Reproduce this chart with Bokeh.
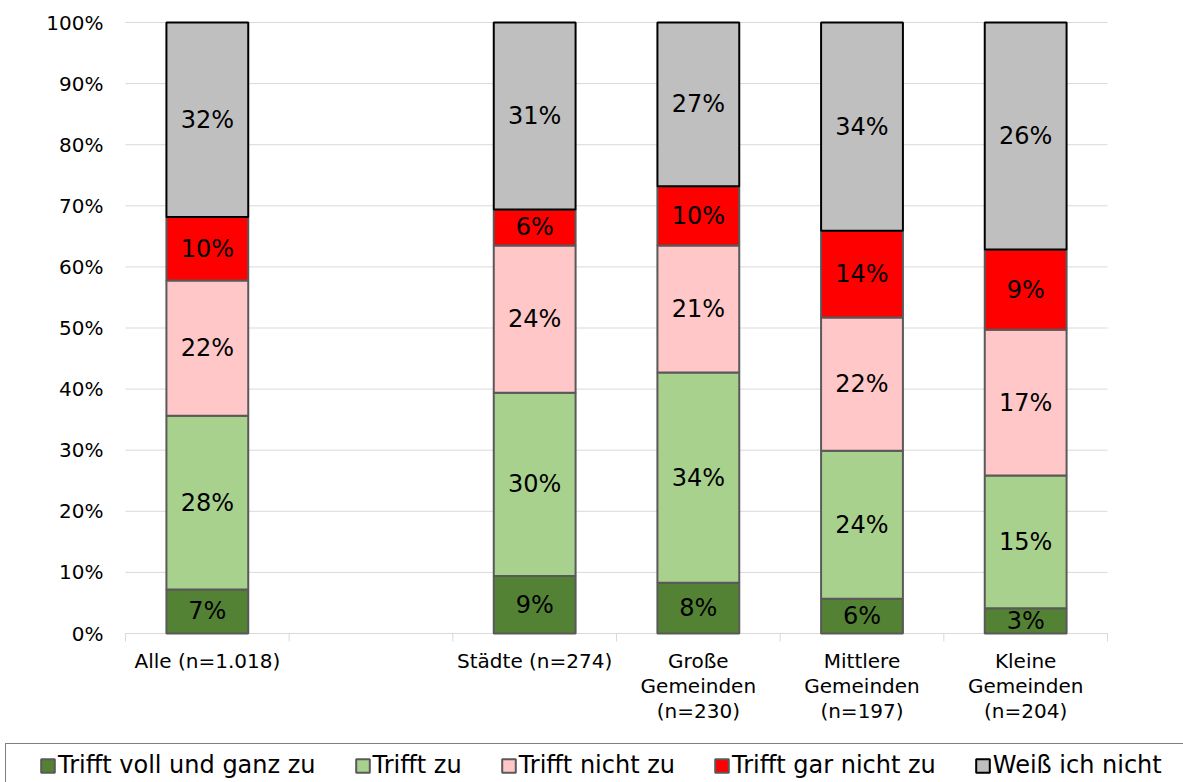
from bokeh.plotting import figure
from bokeh.models import Range1d, Legend, LegendItem, ColumnDataSource
from bokeh.core.properties import value
from bokeh.embed import file_html
from bokeh.resources import INLINE

# ---------------- data ----------------
categories = ["Alle (n=1.018)", "", "Städte (n=274)",
              "Große\nGemeinden\n(n=230)", "Mittlere\nGemeinden\n(n=197)",
              "Kleine\nGemeinden\n(n=204)"]
series = ["Trifft voll und ganz zu", "Trifft zu", "Trifft nicht zu",
          "Trifft gar nicht zu", "Weiß ich nicht"]
trifft_voll = [7.2, None, 9.4, 8.3, 5.7, 2.9]
trifft_zu = [28.4, None, 30.0, 34.4, 24.2, 15.2]
trifft_nicht = [22.1, None, 24.1, 20.8, 21.8, 16.7]
trifft_gar_nicht = [10.4, None, 5.9, 9.7, 14.2, 9.2]
weiss_nicht = [31.8, None, 30.6, 26.8, 34.1, 26.0]
y_ticks = [0, 10, 20, 30, 40, 50, 60, 70, 80, 90, 100]

colors = ["#548235", "#a9d18e", "#ffc7c7", "#ff0000", "#bfbfbf"]
outlines = ["#595959", "#595959", "#595959", "#595959", "#000000"]
FONT = "DejaVu Sans"
GRID = "#d9d9d9"

data = [trifft_voll, trifft_zu, trifft_nicht, trifft_gar_nicht, weiss_nicht]

# ---------------- layout (pixels) ----------------
W, H = 1183, 782
PL, PR, PT, PB = 125, 1107, 22, 633          # plot area edges
ncat = len(categories)
ux = (PR - PL) / ncat                          # px per category
uy = (PB - PT) / 100.0                         # px per percent
x_range = Range1d(-PL / ux, ncat + (W - PR) / ux)
y_range = Range1d(-(H - PB) / uy, 100 + PT / uy)

p = figure(width=W, height=H, frame_width=W, frame_height=H,
           min_border=0, x_range=x_range, y_range=y_range,
           x_axis_location=None, y_axis_location=None,
           output_backend="svg", toolbar_location=None)
p.outline_line_color = None
p.background_fill_color = "white"
p.border_fill_color = "white"
p.xgrid.visible = False
p.ygrid.visible = False

# grid lines and category tick marks
p.segment(x0=[0] * len(y_ticks), x1=[ncat] * len(y_ticks), y0=y_ticks, y1=y_ticks,
          line_color=GRID, line_width=1)
bounds = list(range(ncat + 1))
p.segment(x0=bounds, x1=bounds, y0=[0] * len(bounds), y1=[-8 / uy] * len(bounds),
          line_color=GRID, line_width=1)

idx = [i for i in range(ncat) if trifft_voll[i] is not None]
centers = [i + 0.5 for i in idx]
totals = [sum(d[i] for d in data) for i in idx]

bottom = [0.0] * len(idx)
renderers = []
lab_x, lab_y, lab_t = [], [], []
for s, d in enumerate(data):
    shares = [d[i] / totals[k] * 100 for k, i in enumerate(idx)]
    top = [b + v for b, v in zip(bottom, shares)]
    src = ColumnDataSource(dict(x=centers, bottom=bottom, top=top))
    r = p.vbar(x="x", bottom="bottom", top="top", width=0.5, source=src,
               fill_color=colors[s], line_color=outlines[s], line_width=2)
    renderers.append(r)
    for k, i in enumerate(idx):
        lab_x.append(centers[k])
        lab_y.append((bottom[k] + top[k]) / 2)
        lab_t.append(f"{int(d[i] + 0.5)}%")
    bottom = top

p.text(x=lab_x, y=lab_y, text=lab_t, text_align="center", text_baseline="middle",
       text_font=value(FONT), text_font_size="24px", text_color="black")

# y tick labels
p.text(x=[0] * len(y_ticks), y=y_ticks, text=[f"{t}%" for t in y_ticks],
       x_offset=-22, text_align="right", text_baseline="middle",
       text_font=value(FONT), text_font_size="20px", text_color="black")

# category labels
p.text(x=centers, y=[0] * len(centers), text=[categories[i] for i in idx],
       y_offset=15, text_align="center", text_baseline="top",
       text_line_height=1.05,
       text_font=value(FONT), text_font_size="20px", text_color="black")

# invisible renderer used only to stretch the legend frame past the right edge
pad_r = p.vbar(x=[], top=[], width=0.5, fill_alpha=0, line_alpha=0)

# ---------------- legend ----------------
items = [LegendItem(label=series[s], renderers=[renderers[s]]) for s in range(len(series))]
items.append(LegendItem(label=" ", renderers=[pad_r]))
legend = Legend(items=items, orientation="horizontal", location=(5, -5),
                title=" ", title_location="left", title_text_font_size="10px",
                title_standoff=15,
                border_line_color="black", border_line_width=1.5,
                background_fill_alpha=0,
                padding=7, spacing=38, label_standoff=2, margin=0,
                glyph_width=17, glyph_height=17, label_height=28,
                label_text_font=FONT, label_text_font_size="24px",
                label_text_color="black")
p.add_layout(legend, "center")

open("out.html", "w").write(file_html(p, INLINE))
